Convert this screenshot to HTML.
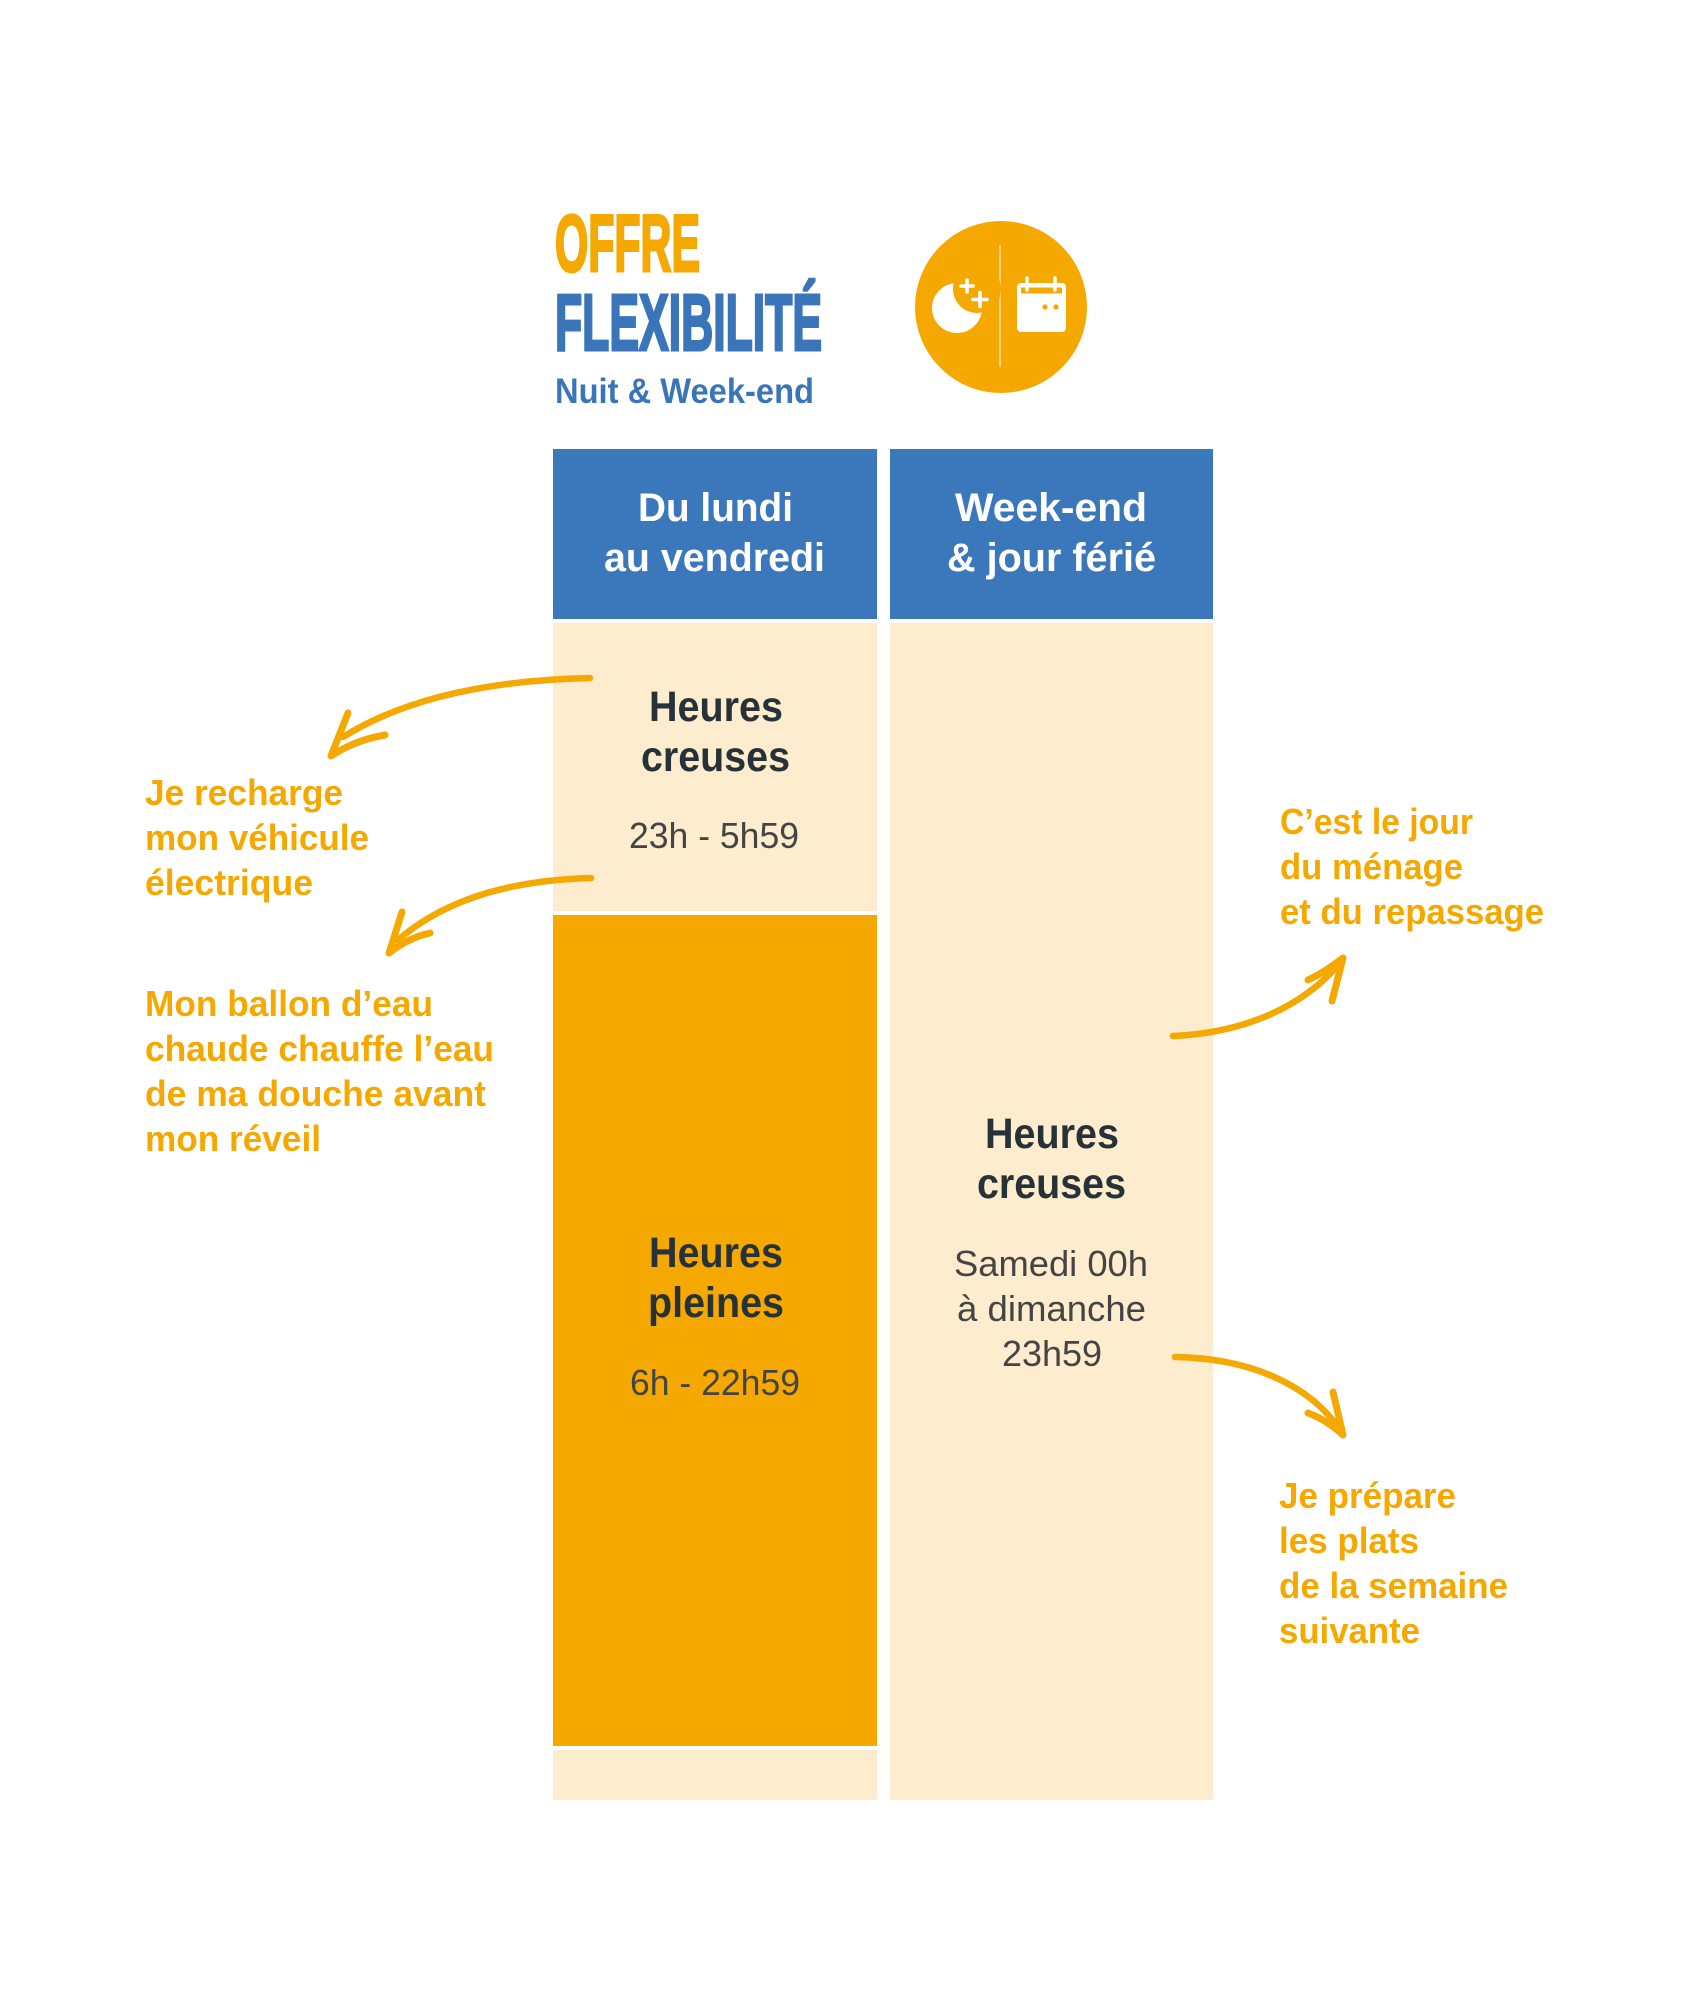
<!DOCTYPE html>
<html>
<head>
<meta charset="utf-8">
<style>
html,body{margin:0;padding:0;background:#fff;}
svg{display:block;}
text{font-family:"Liberation Sans",Arial,sans-serif;}
</style>
</head>
<body>
<svg width="1699" height="2016" viewBox="0 0 1699 2016" xmlns="http://www.w3.org/2000/svg">
  <rect x="0" y="0" width="1699" height="2016" fill="#ffffff"/>

  <!-- Title -->
  <text x="555" y="271" font-size="81" font-weight="bold" fill="#F5A800" stroke="#F5A800" stroke-width="3" textLength="145" lengthAdjust="spacingAndGlyphs">OFFRE</text>
  <text x="555" y="350" font-size="80" font-weight="bold" fill="#3A75BA" stroke="#3A75BA" stroke-width="3" textLength="267" lengthAdjust="spacingAndGlyphs">FLEXIBILITÉ</text>
  <text x="555" y="403" font-size="35" font-weight="bold" fill="#3A75BA" textLength="259" lengthAdjust="spacingAndGlyphs">Nuit &amp; Week-end</text>

  <!-- Icon circle -->
  <circle cx="1001" cy="307" r="86" fill="#F5A800"/>
  <line x1="1000" y1="245" x2="1000" y2="367" stroke="#FBD27A" stroke-width="2"/>
  <!-- moon -->
  <circle cx="957" cy="308" r="25" fill="#ffffff"/>
  <circle cx="977" cy="289" r="24" fill="#F5A800"/>
  <g stroke="#ffffff" stroke-width="3.6" stroke-linecap="round">
    <line x1="961" y1="286" x2="973" y2="286"/>
    <line x1="967" y1="280" x2="967" y2="292"/>
    <line x1="973" y1="299.5" x2="987" y2="299.5"/>
    <line x1="980" y1="292.5" x2="980" y2="306.5"/>
  </g>
  <!-- calendar -->
  <rect x="1017" y="283" width="49" height="49" rx="4" fill="#ffffff"/>
  <rect x="1021" y="287.5" width="41" height="6" fill="#F5A800"/>
  <g stroke="#ffffff" stroke-width="3.4" stroke-linecap="round">
    <line x1="1027" y1="278" x2="1027" y2="290"/>
    <line x1="1055" y1="278" x2="1055" y2="290"/>
  </g>
  <circle cx="1045" cy="307" r="2.6" fill="#F5A800"/>
  <circle cx="1056" cy="307" r="2.6" fill="#F5A800"/>

  <!-- Headers -->
  <rect x="553" y="449" width="324" height="170" fill="#3B77BB"/>
  <rect x="890" y="449" width="323" height="170" fill="#3B77BB"/>
  <text x="638" y="521" font-size="40" font-weight="bold" fill="#ffffff" textLength="155" lengthAdjust="spacingAndGlyphs">Du lundi</text>
  <text x="604" y="571" font-size="40" font-weight="bold" fill="#ffffff" textLength="221" lengthAdjust="spacingAndGlyphs">au vendredi</text>
  <text x="955" y="521" font-size="40" font-weight="bold" fill="#ffffff" textLength="192" lengthAdjust="spacingAndGlyphs">Week-end</text>
  <text x="947" y="571" font-size="40" font-weight="bold" fill="#ffffff" textLength="209" lengthAdjust="spacingAndGlyphs">&amp; jour férié</text>

  <!-- Left column body -->
  <rect x="553" y="623" width="324" height="288" fill="#FDECCD"/>
  <rect x="553" y="915" width="324" height="831" fill="#F5A800"/>
  <rect x="553" y="1750" width="324" height="50" fill="#FDECCD"/>
  <!-- Right column body -->
  <rect x="890" y="623" width="323" height="1177" fill="#FDECCD"/>

  <!-- Left light section text -->
  <text x="649" y="721" font-size="43" font-weight="bold" fill="#263238" textLength="134" lengthAdjust="spacingAndGlyphs">Heures</text>
  <text x="641" y="771" font-size="43" font-weight="bold" fill="#263238" textLength="149" lengthAdjust="spacingAndGlyphs">creuses</text>
  <text x="629" y="848" font-size="36" fill="#444444" textLength="170" lengthAdjust="spacingAndGlyphs">23h - 5h59</text>

  <!-- Orange section text -->
  <text x="649" y="1267" font-size="43" font-weight="bold" fill="#263238" textLength="134" lengthAdjust="spacingAndGlyphs">Heures</text>
  <text x="648" y="1317" font-size="43" font-weight="bold" fill="#263238" textLength="136" lengthAdjust="spacingAndGlyphs">pleines</text>
  <text x="630" y="1395" font-size="36" fill="#444444" textLength="170" lengthAdjust="spacingAndGlyphs">6h - 22h59</text>

  <!-- Right column text -->
  <text x="985" y="1148" font-size="43" font-weight="bold" fill="#263238" textLength="134" lengthAdjust="spacingAndGlyphs">Heures</text>
  <text x="977" y="1198" font-size="43" font-weight="bold" fill="#263238" textLength="149" lengthAdjust="spacingAndGlyphs">creuses</text>
  <text x="954" y="1276" font-size="36" fill="#444444" textLength="194" lengthAdjust="spacingAndGlyphs">Samedi 00h</text>
  <text x="957" y="1321" font-size="36" fill="#444444" textLength="189" lengthAdjust="spacingAndGlyphs">à dimanche</text>
  <text x="1002" y="1366" font-size="36" fill="#444444" textLength="100" lengthAdjust="spacingAndGlyphs">23h59</text>

  <!-- Annotations -->
  <g font-size="36" font-weight="bold" fill="#F5A800">
    <text x="145" y="805" textLength="198" lengthAdjust="spacingAndGlyphs">Je recharge</text>
    <text x="145" y="850" textLength="224" lengthAdjust="spacingAndGlyphs">mon véhicule</text>
    <text x="145" y="895" textLength="168" lengthAdjust="spacingAndGlyphs">électrique</text>

    <text x="145" y="1016" textLength="288" lengthAdjust="spacingAndGlyphs">Mon ballon d’eau</text>
    <text x="145" y="1061" textLength="349" lengthAdjust="spacingAndGlyphs">chaude chauffe l’eau</text>
    <text x="145" y="1106" textLength="341" lengthAdjust="spacingAndGlyphs">de ma douche avant</text>
    <text x="145" y="1151" textLength="176" lengthAdjust="spacingAndGlyphs">mon réveil</text>

    <text x="1280" y="834" textLength="193" lengthAdjust="spacingAndGlyphs">C’est le jour</text>
    <text x="1280" y="879" textLength="183" lengthAdjust="spacingAndGlyphs">du ménage</text>
    <text x="1280" y="924" textLength="264" lengthAdjust="spacingAndGlyphs">et du repassage</text>

    <text x="1279" y="1508" textLength="177" lengthAdjust="spacingAndGlyphs">Je prépare</text>
    <text x="1279" y="1553" textLength="140" lengthAdjust="spacingAndGlyphs">les plats</text>
    <text x="1279" y="1598" textLength="229" lengthAdjust="spacingAndGlyphs">de la semaine</text>
    <text x="1279" y="1643" textLength="141" lengthAdjust="spacingAndGlyphs">suivante</text>
  </g>

  <!-- Arrows -->
  <g fill="none" stroke="#F5A800" stroke-linecap="round" stroke-linejoin="round">
    <!-- left arrow 1 -->
    <path d="M590,678 C500,680 410,695 343,737" stroke-width="6.5"/>
    <path d="M348,713 L331,756 Q355,740 385,735" stroke-width="7"/>
    <!-- left arrow 2 -->
    <path d="M591,878 C520,880 450,895 398,940" stroke-width="6.5"/>
    <path d="M402,912 L389,953 Q408,938 430,933" stroke-width="7"/>
    <!-- right arrow 1 -->
    <path d="M1173,1036 C1240,1033 1300,1010 1340,963" stroke-width="6.5"/>
    <path d="M1308,980 Q1325,972 1343,958 L1332,1001" stroke-width="7"/>
    <!-- right arrow 2 -->
    <path d="M1175,1357 C1250,1358 1310,1385 1340,1430" stroke-width="6.5"/>
    <path d="M1308,1413 Q1327,1420 1343,1435 L1333,1392" stroke-width="7"/>
  </g>
</svg>
</body>
</html>
